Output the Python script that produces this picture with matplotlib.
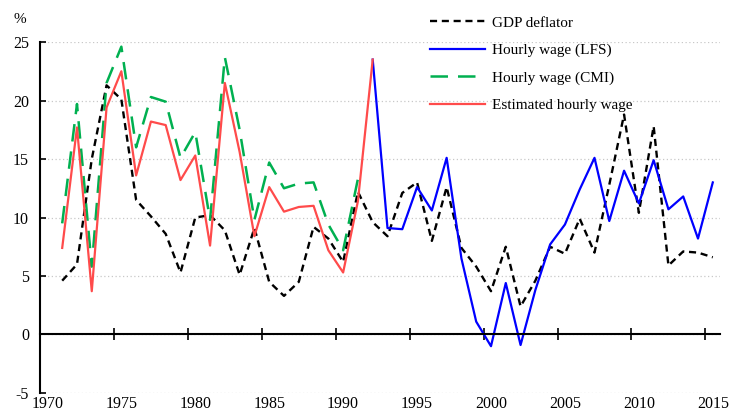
import matplotlib
matplotlib.use("Agg")
import matplotlib.pyplot as plt
import numpy as np

plt.rcParams['font.family'] = ['Liberation Serif', 'DejaVu Serif']
plt.rcParams['axes.unicode_minus'] = False

# data (annual % change)
years = list(range(1971, 2016))

gdp_deflator = [4.6, 6.0, 15.0, 21.3, 20.1, 11.5, 10.1, 8.6, 5.3, 10.0,
                10.2, 8.9, 5.1, 9.1, 4.5, 3.3, 4.5, 9.2, 8.2, 6.2,
                12.2, 9.6, 8.4, 12.1, 13.0, 8.0, 12.6, 7.4, 5.8, 3.7,
                7.5, 2.4, 4.6, 7.5, 6.9, 9.9, 7.0, 12.8, 18.8, 10.4,
                17.8, 5.9, 7.1, 7.0, 6.6]

lfs_years = list(range(1992, 2016))
wage_lfs = [23.5, 9.1, 9.0, 12.6, 10.6, 15.1, 6.5, 1.1, -1.0, 4.4,
            -0.9, 3.8, 7.7, 9.4, 12.4, 15.1, 9.7, 14.0, 11.2, 14.9,
            10.7, 11.8, 8.2, 13.0]

cmi_years = list(range(1971, 1992))
wage_cmi = [9.5, 19.7, 5.8, 21.5, 24.6, 16.0, 20.3, 19.9, 15.1, 17.3,
            9.8, 23.7, 17.5, 9.8, 14.7, 12.5, 12.9, 13.0, 9.4, 7.2,
            13.3]

est_years = list(range(1971, 1993))
wage_est = [7.4, 17.7, 3.7, 19.4, 22.5, 13.6, 18.2, 17.9, 13.2, 15.3,
            7.6, 21.5, 15.6, 8.4, 12.6, 10.5, 10.9, 11.0, 7.2, 5.3,
            11.4, 23.5]

fig = plt.figure(figsize=(7.29, 4.16), dpi=100)
ax = fig.add_axes([0.0549, 0.0553, 0.933, 0.8437])

ax.plot(years, gdp_deflator, color='black', lw=1.7, dashes=(3, 2), label='GDP deflator')
ax.plot(lfs_years, wage_lfs, color='#0000ff', lw=1.6, label='Hourly wage (LFS)')
ax.plot(cmi_years, wage_cmi, color='#00b050', lw=1.8, dashes=(7, 4), label='Hourly wage (CMI)')
ax.plot(est_years, wage_est, color='#ff4b4b', lw=1.6, label='Estimated hourly wage')

ax.set_xlim(1969.5, 2015.5)
ax.set_ylim(-5, 25)

# y axis
ax.set_yticks(np.arange(-5, 26, 5))
ax.yaxis.grid(True, color='#c8c8c8', linestyle=(0, (1, 2)), lw=0.9)
ax.tick_params(axis='y', direction='in', length=4, width=1.2, labelsize=11.5, pad=8)
ax.spines['left'].set_linewidth(1.5)

# x axis: labels at the bottom, axis line with ticks at zero
ax.set_xticks(range(1970, 2016, 5))
ax.set_xticks(np.arange(1974.5, 2015, 5), minor=True)
ax.tick_params(axis='x', which='major', bottom=True, top=False, length=0,
               labelsize=11.5, pad=2)
ax.tick_params(axis='x', which='minor', bottom=False, top=True, direction='inout',
               length=8, width=1.2)
ax.spines['bottom'].set_visible(False)
ax.spines['right'].set_visible(False)
ax.spines['top'].set_position(('data', 0))
ax.spines['top'].set_linewidth(1.5)

fig.text(0.018, 0.945, '%', fontsize=11)

leg = ax.legend(loc='upper left', bbox_to_anchor=(0.571, 0.995), bbox_transform=fig.transFigure,
                frameon=False, fontsize=11, handlelength=3.6, handletextpad=0.45,
                labelspacing=0.9)

fig.savefig('out.png', dpi=100)
